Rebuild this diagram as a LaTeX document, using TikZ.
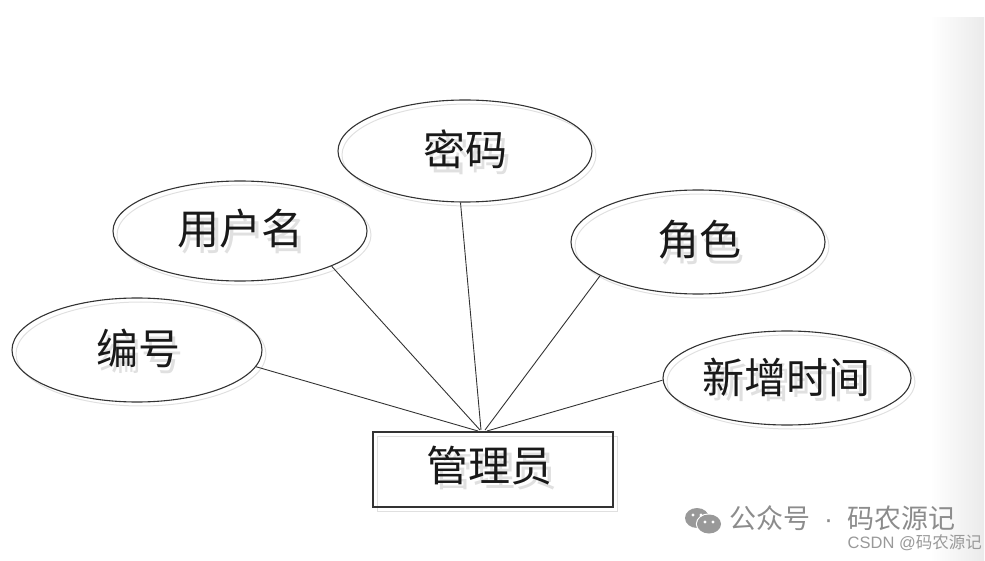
\documentclass[tikz,border=0pt]{standalone}
\usepackage{fontspec}
\newfontfamily\cjk{Noto Sans CJK SC}
\newfontfamily\lat{Liberation Sans}
\usetikzlibrary{shapes.geometric}
\begin{document}
\begin{tikzpicture}[x=1pt,y=-1pt,
  attr/.style={ellipse,draw=black!80,line width=1.1pt,inner sep=0pt,font=\cjk\fontsize{42}{42}\selectfont},
  attrshadow/.style={ellipse,draw=black!12,line width=1pt,inner sep=0pt,text=black!12,font=\cjk\fontsize{42}{42}\selectfont},
  entity/.style={rectangle,draw=black!80,line width=1.1pt,inner sep=0pt,font=\cjk\fontsize{42}{42}\selectfont},
  entityshadow/.style={rectangle,draw=black!12,line width=1pt,inner sep=0pt},
  label/.style={inner sep=0pt,text=black!90,font=\cjk\fontsize{42}{42}\selectfont},
  link/.style={draw=black!80,line width=0.9pt},
  wm/.style={text=black!45,inner sep=0pt}]
\useasboundingbox (0,0) rectangle (985,561);
\shade[left color=white,right color=black!8] (930,18) rectangle (984,561);
% shadows
\node[attrshadow,minimum width=250pt,minimum height=104pt] (s1) at (141,354) {编号};
\node[attrshadow,minimum width=254pt,minimum height=100pt] (s2) at (244,235) {用户名};
\node[attrshadow,minimum width=254pt,minimum height=102pt] (s3) at (469,155) {密码};
\node[attrshadow,minimum width=254pt,minimum height=104pt] (s4) at (702,246) {角色};
\node[attrshadow,minimum width=248pt,minimum height=94pt] (s5) at (791,382) {新增时间};
\node[entityshadow,minimum width=240pt,minimum height=75pt] (sa) at (497,474) {};
\node[text=black!12,inner sep=0pt,font=\cjk\fontsize{42}{42}\selectfont] (sat) at (494,471) {管理员};
% main shapes
\node[attr,minimum width=250pt,minimum height=104pt] (e1) at (137,350) {};
\node[attr,minimum width=254pt,minimum height=100pt] (e2) at (240,231) {};
\node[attr,minimum width=254pt,minimum height=102pt] (e3) at (465,151) {};
\node[attr,minimum width=254pt,minimum height=104pt] (e4) at (698,242) {};
\node[attr,minimum width=248pt,minimum height=94pt] (e5) at (787,378) {};
\node[entity,minimum width=240pt,minimum height=75pt] (admin) at (493,469.5) {};
% texts
\node[label] (t1) at (138,348) {编号};
\node[label] (t2) at (240,229) {用户名};
\node[label] (t3) at (465,149) {密码};
\node[label] (t4) at (699,240) {角色};
\node[label] (t5) at (786,377) {新增时间};
\node[label] (t6) at (489,466) {管理员};
% connection points
\coordinate (h1) at (478,431);
\coordinate (h2) at (480,430);
\coordinate (h3) at (481,430);
\coordinate (h4) at (485,430);
\coordinate (h5) at (487,431);
\draw[link] (e1.-8) -- (h1);
\draw[link] (e2.-21) -- (h2);
\draw[link] (e3.265) -- (h3);
\draw[link] (e4.199) -- (h4);
\draw[link] (e5.181) -- (h5);
% watermark
\fill[black!40] (697,518) ellipse (12pt and 10pt);
\fill[white] (693,515) circle (1.6pt) (701,515) circle (1.6pt);
\draw[white,line width=1.3pt] (709,524) ellipse (12.5pt and 10pt);
\fill[black!40] (709,524) ellipse (12pt and 9.5pt);
\fill[white] (705,522) circle (1.6pt) (713,522) circle (1.6pt);
\node[wm,anchor=west,font=\cjk\fontsize{27}{27}\selectfont] (wm1) at (729,518) {公众号{\lat\hspace{14pt}·\hspace{14pt}}码农源记};
\node[wm,anchor=east,text=black!40,font=\lat\fontsize{16.5}{16.5}\selectfont] (wm2) at (982,543) {CSDN @{\cjk 码农源记}};
\end{tikzpicture}
\end{document}
